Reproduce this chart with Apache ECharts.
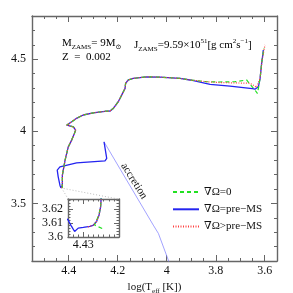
<!DOCTYPE html>
<html><head><meta charset="utf-8">
<script src="https://cdn.jsdelivr.net/npm/echarts@6/dist/echarts.min.js"></script>
<style>html,body{margin:0;padding:0;background:#fff}#c{width:293px;height:293px}</style>
</head><body><div id="c"></div>
<script>
// ---------- data (log Teff, log L/Lsun) ----------
const accretionT = [3.981, 3.991, 4.034, 4.055, 4.256];
const accretionL = [3.05, 3.094, 3.291, 3.349, 3.927];

const preMST = [4.256, 4.245, 4.252, 4.368, 4.436, 4.447, 4.443, 4.436, 4.4345];
const preMSL = [3.927, 3.812, 3.795, 3.781, 3.753, 3.731, 3.684, 3.626, 3.616];

const blueZamsT = [4.4330, 4.4323, 4.4317, 4.4310, 4.4300, 4.4287, 4.4281, 4.4274, 4.4269, 4.4266];
const blueZamsL = [3.6122, 3.6075, 3.6039, 3.6063, 3.6068, 3.6075, 3.6082, 3.6110, 3.6157, 3.6215];
const greenZamsT = [4.4263, 4.4270, 4.4278, 4.4276, 4.4270, 4.4266];
const greenZamsL = [3.6060, 3.6072, 3.6085, 3.6105, 3.6150, 3.6215];
const redZamsT = [4.4291, 4.4281, 4.4274, 4.4269, 4.4266];
const redZamsL = [3.6072, 3.6082, 3.6110, 3.6157, 3.6215];

const mainT = [4.4265, 4.4262, 4.426, 4.415, 4.402, 4.388, 4.377, 4.372, 4.381, 4.408, 4.415, 4.402, 4.388, 4.368, 4.341, 4.300, 4.245, 4.232, 4.218, 4.198, 4.184, 4.170, 4.168, 4.157, 4.137, 4.082, 4.028, 3.946, 3.905];
const mainL = [3.628, 3.64, 3.696, 3.80, 3.892, 3.939, 3.985, 4.008, 4.031, 4.043, 4.048, 4.050, 4.066, 4.090, 4.113, 4.128, 4.140, 4.140, 4.159, 4.205, 4.251, 4.298, 4.333, 4.356, 4.367, 4.378, 4.376, 4.367, 4.356];

const blueEndT = [3.823, 3.742, 3.660, 3.650, 3.640, 3.626, 3.619, 3.612, 3.608, 3.606];
const blueEndL = [4.326, 4.314, 4.298, 4.296, 4.292, 4.309, 4.367, 4.483, 4.529, 4.564];
const greenEndT = [3.837, 3.783, 3.721, 3.674, 3.668, 3.660, 3.640, 3.630, 3.626, 3.619, 3.611, 3.603];
const greenEndL = [4.344, 4.342, 4.344, 4.356, 4.360, 4.326, 4.286, 4.263, 4.298, 4.369, 4.494, 4.578];
const redEndT = [3.837, 3.783, 3.702, 3.660, 3.633, 3.625, 3.619, 3.611, 3.599];
const redEndL = [4.344, 4.338, 4.335, 4.333, 4.305, 4.314, 4.369, 4.494, 4.599];

const connectorT = [4.402, 4.429, 4.195];
const connectorL = [3.529, 3.606, 3.529];

const seriesNames = ['∇Ω=0', '∇Ω=pre−MS', '∇Ω>pre−MS'];

const majorTickT = [3.6, 3.8, 4, 4.2, 4.4];
const majorTickL = [3.5, 4, 4.5];
const insetLabelT = [4.43];
const insetLabelL = [3.6, 3.61, 3.62];

// ---------- helpers ----------
function range(a, b, step, dec) {
  const out = []; const n = Math.round((b - a) / step);
  for (let i = 0; i <= n; i++) out.push(+(a + i * step).toFixed(dec));
  return out;
}
const minorT = range(3.6, 4.5, 0.05, 2);
const minorL = range(3.2, 4.7, 0.1, 1);
const insetMinorT = range(4.424, 4.432, 0.001, 3);
const insetMinorL = range(3.602, 3.626, 0.002, 3);

const FONT = '"Liberation Serif", "DejaVu Serif", serif';
const FRAME = '#666';
const pairs = (T, L) => T.map((t, i) => [t, L[i]]);

function mkAxis(isX, grid, pos, min, max, ticks, len, labels, showLine, extra) {
  const a = {
    type: 'value', gridIndex: grid, position: pos, min: min, max: max, inverse: isX,
    splitLine: { show: false },
    axisLine: { show: showLine, onZero: false, lineStyle: { color: FRAME, width: 1.4 } },
    axisTick: { show: true, inside: true, length: len, customValues: ticks, lineStyle: { color: FRAME, width: 1 } },
    axisLabel: labels ? { show: true, customValues: labels, margin: isX ? 4 : 6, fontSize: 12, fontFamily: FONT, color: '#111' } : { show: false },
    minorTick: { show: false }
  };
  return Object.assign(a, extra || {});
}

const richBase = {
  n: { fontSize: 11, fontFamily: FONT, color: '#111', lineHeight: 15, verticalAlign: 'middle' },
  s: { fontSize: 7, fontFamily: FONT, color: '#111', verticalAlign: 'bottom' },
  p: { fontSize: 7, fontFamily: FONT, color: '#111', verticalAlign: 'top' }
};

const xAxes = [
  mkAxis(true, 0, 'bottom', 3.55, 4.55, majorTickT, 6, majorTickT, true, {
    name: '{n|log(T}{s|eff}{n| [K])}', nameLocation: 'middle', nameGap: 17,
    nameTextStyle: { rich: richBase }
  }),
  mkAxis(true, 0, 'bottom', 3.55, 4.55, minorT, 3, null, false),
  mkAxis(true, 0, 'top', 3.55, 4.55, majorTickT, 6, null, true),
  mkAxis(true, 0, 'top', 3.55, 4.55, minorT, 3, null, false),
  mkAxis(true, 1, 'bottom', 4.423, 4.433, insetMinorT, 2.5, insetLabelT, true),
  mkAxis(true, 1, 'top', 4.423, 4.433, insetMinorT, 2.5, null, true),
  mkAxis(true, 1, 'bottom', 4.423, 4.433, insetLabelT, 5, null, false),
  mkAxis(true, 1, 'top', 4.423, 4.433, insetLabelT, 5, null, false)
];
xAxes[4].axisLabel.margin = 2;
const yAxes = [
  mkAxis(false, 0, 'left', 3.1, 4.8, majorTickL, 6, majorTickL, true, {
    name: '{n|log(L/L}{s|⊙}{n|)}', nameLocation: 'middle', nameGap: 19,
    nameTextStyle: { rich: richBase }
  }),
  mkAxis(false, 0, 'left', 3.1, 4.8, minorL, 3, null, false),
  mkAxis(false, 0, 'right', 3.1, 4.8, majorTickL, 6, null, true),
  mkAxis(false, 0, 'right', 3.1, 4.8, minorL, 3, null, false),
  mkAxis(false, 1, 'left', 3.6, 3.627, insetMinorL, 2.5, insetLabelL, true),
  mkAxis(false, 1, 'right', 3.6, 3.627, insetMinorL, 2.5, null, true),
  mkAxis(false, 1, 'left', 3.6, 3.627, insetLabelL, 5, null, false),
  mkAxis(false, 1, 'right', 3.6, 3.627, insetLabelL, 5, null, false)
];
yAxes[4].axisLabel.margin = 5;

const greenData = pairs(greenZamsT.concat(mainT, greenEndT), greenZamsL.concat(mainL, greenEndL));
const blueData = pairs(preMST.concat(blueZamsT, mainT, blueEndT), preMSL.concat(blueZamsL, mainL, blueEndL));
const redData = pairs(redZamsT.concat(mainT, redEndT), redZamsL.concat(mainL, redEndL));

const styles = [
  { color: '#22e022', width: 1.2, type: [4, 3] },
  { color: '#2424f0', width: 1.3, type: 'solid' },
  { color: '#ff4040', width: 1.2, type: [1, 1.5] }
];
const datas = [greenData, blueData, redData];

function mkLine(name, xi, yi, data, style, z) {
  return { type: 'line', name: name, xAxisIndex: xi, yAxisIndex: yi, data: data,
    symbol: 'none', showSymbol: false, lineStyle: style, itemStyle: { color: style.color },
    z: z, silent: true, animation: false, clip: true };
}

const series = [];
series.push(mkLine('accretion', 0, 0, pairs(accretionT, accretionL), { color: '#8a8aff', width: 0.8 }, 1));
series.push(mkLine('connector', 0, 0, pairs(connectorT, connectorL), { color: '#aaaaaa', width: 0.8, type: [1, 2] }, 1));
const order = [1, 0, 2];
order.forEach((k, j) => series.push(mkLine(seriesNames[k], 0, 0, datas[k], styles[k], 3 + j)));
order.forEach((k, j) => series.push(mkLine(seriesNames[k], 4, 4, datas[k], styles[k], 3 + j)));

const chart = echarts.init(document.getElementById('c'), null, { renderer: 'canvas' });
chart.setOption({
  animation: false,
  backgroundColor: '#fff',
  grid: [
    { left: 32, top: 16, width: 245, height: 245, containLabel: false, outerBoundsMode: 'none' },
    { left: 68, top: 199, width: 51, height: 38, containLabel: false, outerBoundsMode: 'none' }
  ],
  xAxis: xAxes,
  yAxis: yAxes,
  legend: {
    data: seriesNames, orient: 'vertical', left: 172, top: 186, padding: 0,
    itemWidth: 26, itemHeight: 12, itemGap: 5.3,
    itemStyle: { opacity: 0, borderWidth: 0 },
    textStyle: { fontSize: 11, fontFamily: FONT, color: '#111', lineHeight: 12 },
    selectedMode: false
  },
  graphic: [
    { type: 'text', left: 62, top: 37.5, silent: true,
      style: { text: '{n|M}{s|ZAMS}{n|= 9M}{s|⊙}', rich: richBase } },
    { type: 'text', left: 134, top: 37.5, silent: true,
      style: { text: '{n|J}{s|ZAMS}{n|=9.59×10}{p|51}{n|[g cm}{p|2}{n|s}{p|−1}{n|]}', rich: richBase } },
    { type: 'text', left: 62, top: 52, silent: true,
      style: { text: '{n|Z  =  0.002}', rich: richBase } },
    { type: 'text', x: 134, y: 181, rotation: -1.01, silent: true,
      style: { text: 'accretion', font: '11px ' + FONT, fill: '#111',
        align: 'center', verticalAlign: 'middle', textAlign: 'center', textVerticalAlign: 'middle' } }
  ],
  series: series
});
</script></body></html>
